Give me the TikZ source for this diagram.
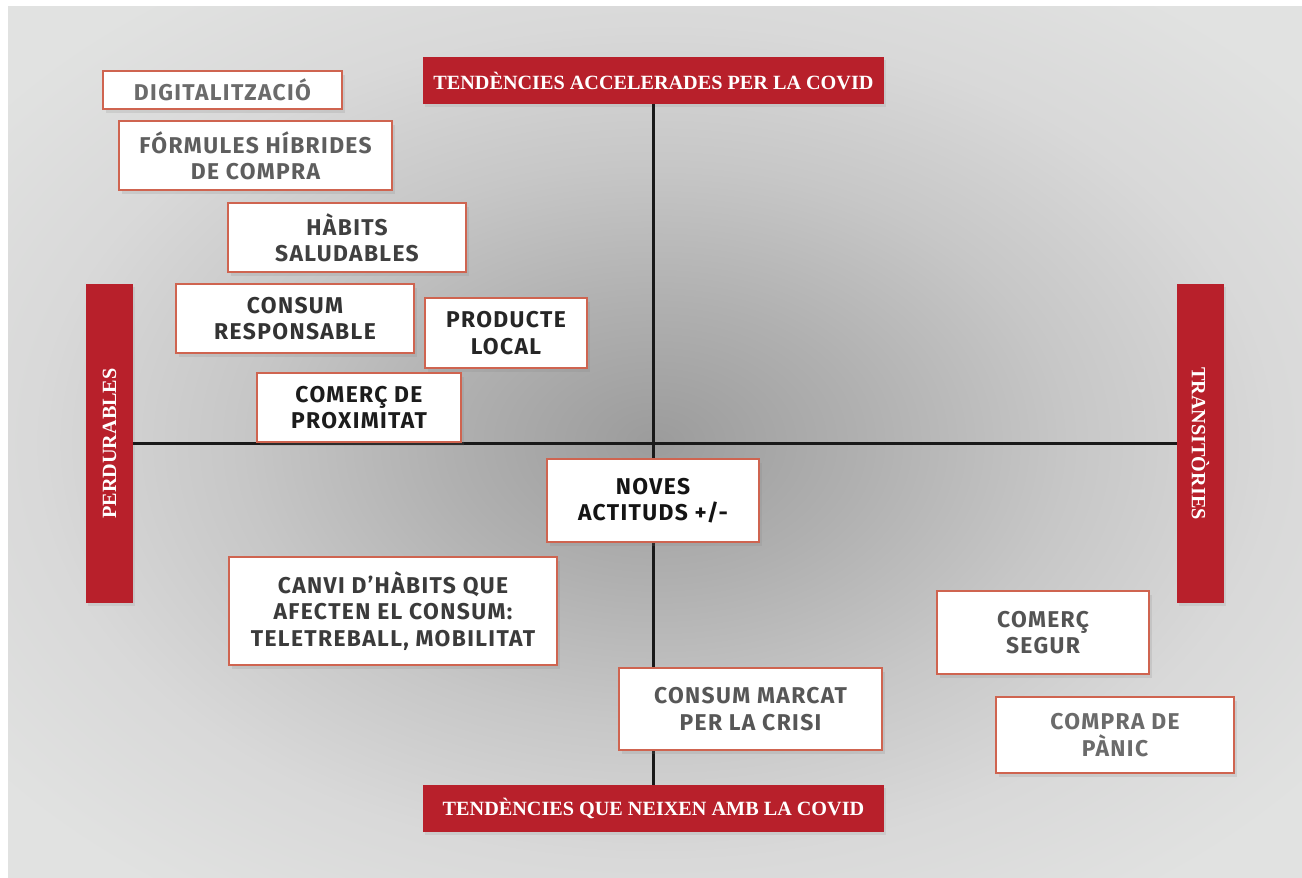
\documentclass[tikz,border=0pt]{standalone}
\usepackage{fontspec}
\setmainfont{Liberation Serif}
\newfontfamily\tagfont{Fira Sans}[LetterSpace=6]
\usetikzlibrary{shadows}
\definecolor{covidred}{HTML}{B8202B}
\definecolor{tagline}{HTML}{CF6450}
\pgfdeclareradialshading{bgglow}{\pgfpoint{0bp}{0bp}}{rgb(0bp)=(0.61,0.61,0.61); rgb(8bp)=(0.69,0.69,0.69); rgb(16bp)=(0.78,0.78,0.78); rgb(24bp)=(0.85,0.85,0.85); rgb(32bp)=(0.882,0.886,0.882); rgb(50bp)=(0.882,0.886,0.882)}
\tikzset{
	tag/.style={draw=tagline, line width=1.1pt, fill=white, align=center, inner sep=0pt, font=\tagfont\bfseries\fontsize{13}{15}\selectfont, drop shadow={shadow xshift=1.5pt, shadow yshift=-2pt, opacity=0.18}},
	bar/.style={fill=covidred, text=white, inner sep=0pt, font=\bfseries\fontsize{11.5}{13}\selectfont, drop shadow={shadow xshift=1pt, shadow yshift=-1.5pt, opacity=0.15}},
	axis/.style={line width=1.7pt, color=black!90}
}
\def\tagbox[#1](#2,#3)(#4,#5)#6#7{\node[tag, text=#1, minimum width={(#4-#2)*0.02cm}, minimum height={(#5-#3)*0.02cm}] (#6) at ({(#2+#4)/2},{(#3+#5)/2}) {#7};}
\begin{document}
\begin{tikzpicture}[x=0.02cm, y=-0.02cm]
			%%%%% START %%%%%
			
			\fill[white] (0, 0) rectangle (1302, 878);
			\useasboundingbox (0, 0) rectangle (1302, 878);
			\shade[shading=bgglow] (8, 7) rectangle (1302, 878);
			
			\node[bar, minimum width=461*0.02cm, minimum height=47*0.02cm] (tacc) at (653.5, 80.5) {TENDÈNCIES ACCELERADES PER LA COVID};
			\node[bar, minimum width=461*0.02cm, minimum height=47*0.02cm] (tneix) at (653.5, 808.5) {TENDÈNCIES QUE NEIXEN AMB LA COVID};
			\node[bar, rotate=90, minimum width=319*0.02cm, minimum height=47*0.02cm] (perd) at (109.5, 443.5) {PERDURABLES};
			\node[bar, rotate=-90, minimum width=319*0.02cm, minimum height=47*0.02cm] (trans) at (1200.5, 443.5) {TRANSITÒRIES};
			
			\draw[axis] (tacc.south) -- (tneix.north);
			\draw[axis] (perd.south) -- (trans.south);
			
			\tagbox[black!58](103,71)(342,109){digital}{DIGITALITZACIÓ}
			\tagbox[black!63](119,121)(392,190){formules}{FÓRMULES HÍBRIDES\\DE COMPRA}
			\tagbox[black!75](228,203)(466,272){habits}{HÀBITS\\SALUDABLES}
			\tagbox[black!80](176,284)(414,353){consum}{CONSUM\\RESPONSABLE}
			\tagbox[black!85](425,298)(587,368){producte}{PRODUCTE\\LOCAL}
			\tagbox[black!89](257,373)(461,442){proximitat}{COMERÇ DE\\PROXIMITAT}
			
			\tagbox[black!92](547,459)(759,542){noves}{NOVES\\ACTITUDS +/-}
			
			\tagbox[black!77](229,557)(557,665){canvi}{CANVI D’HÀBITS QUE\\AFECTEN EL CONSUM:\\TELETREBALL, MOBILITAT}
			\tagbox[black!66](619,668)(882,750){crisi}{CONSUM MARCAT\\PER LA CRISI}
			\tagbox[black!67](937,591)(1149,674){segur}{COMERÇ\\SEGUR}
			\tagbox[black!58](996,697)(1234,773){panic}{COMPRA DE\\PÀNIC}
			
			%%%%% END %%%%%
\end{tikzpicture}
\end{document}
